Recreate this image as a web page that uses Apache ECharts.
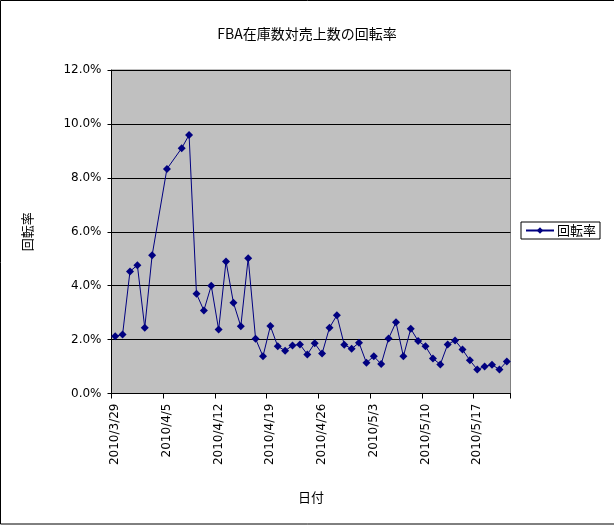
<!DOCTYPE html>
<html>
<head>
<meta charset="utf-8">
<script src="https://cdn.jsdelivr.net/npm/echarts@6/dist/echarts.min.js"></script>
<style>
html,body{margin:0;padding:0;background:#fff;}
#c{width:614px;height:525px;}
</style>
</head>
<body>
<div id="c"></div>
<script>
var dates = [
 '2010/3/29','2010/3/30','2010/3/31','2010/4/1','2010/4/2','2010/4/3','2010/4/4',
 '2010/4/5','2010/4/6','2010/4/7','2010/4/8','2010/4/9','2010/4/10','2010/4/11',
 '2010/4/12','2010/4/13','2010/4/14','2010/4/15','2010/4/16','2010/4/17','2010/4/18',
 '2010/4/19','2010/4/20','2010/4/21','2010/4/22','2010/4/23','2010/4/24','2010/4/25',
 '2010/4/26','2010/4/27','2010/4/28','2010/4/29','2010/4/30','2010/5/1','2010/5/2',
 '2010/5/3','2010/5/4','2010/5/5','2010/5/6','2010/5/7','2010/5/8','2010/5/9',
 '2010/5/10','2010/5/11','2010/5/12','2010/5/13','2010/5/14','2010/5/15','2010/5/16',
 '2010/5/17','2010/5/18','2010/5/19','2010/5/20','2010/5/21'
];
// 回転率 (%)
var rate = [
 2.12, 2.19, 4.53, 4.76, 2.44, 5.13, null,
 8.33, null, 9.10, 9.59, 3.70, 3.08, 4.00,
 2.37, 4.90, 3.37, 2.49, 5.02, 2.03, 1.38,
 2.50, 1.75, 1.59, 1.78, 1.82, 1.45, 1.86,
 1.48, 2.44, 2.90, 1.81, 1.66, 1.88, 1.14,
 1.38, 1.09, 2.04, 2.64, 1.38, 2.40, 1.95,
 1.75, 1.30, 1.08, 1.82, 1.97, 1.63, 1.23,
 0.89, 1.00, 1.07, 0.89, 1.19
];
var title = 'FBA在庫数対売上数の回転率';
var seriesName = '回転率';
var xName = '日付';
var yName = '回転率';

var FONT = '"Noto Sans CJK JP", "DejaVu Sans", sans-serif';
var NUMFONT = '"DejaVu Sans", sans-serif';
var chart = echarts.init(document.getElementById('c'));
chart.setOption({
  backgroundColor: '#ffffff',
  animation: false,
  textStyle: {fontFamily: FONT, color: '#000'},
  title: {
    text: title, left: 302, top: 22, textAlign: 'center',
    textStyle: {fontSize: 14, fontWeight: 'normal', color: '#000', fontFamily: FONT}
  },
  legend: {
    data: [seriesName], left: 521, top: 222, orient: 'vertical',
    borderColor: '#000', borderWidth: 1, padding: [2, 4, 2, 4],
    itemWidth: 28, itemHeight: 8, itemGap: 4,
    textStyle: {fontSize: 13, color: '#000', fontFamily: FONT, padding: [0, 0, 0, -2]}
  },
  graphic: [{
    type: 'rect', shape: {x: 0.5, y: 0.5, width: 620, height: 523.5},
    style: {fill: 'none', stroke: '#000', lineWidth: 1}, silent: true, z: 100
  }],
  grid: {
    left: 111.5, right: 103.5, top: 70, bottom: 131.5,
    show: true, backgroundColor: '#c0c0c0', borderColor: '#808080', borderWidth: 1
  },
  xAxis: {
    type: 'category', data: dates, boundaryGap: true,
    name: xName, nameLocation: 'middle', nameGap: 97,
    nameTextStyle: {fontSize: 13, color: '#000', fontFamily: FONT},
    axisLine: {lineStyle: {color: '#000', width: 1}},
    axisTick: {show: true, interval: 6, length: 5, lineStyle: {color: '#000'}},
    axisLabel: {interval: 6, rotate: 90, fontSize: 12, color: '#000', margin: 10, fontFamily: NUMFONT},
    splitLine: {show: false}
  },
  yAxis: {
    type: 'value', min: 0, max: 12, interval: 2,
    name: yName, nameLocation: 'middle', nameGap: 78, nameRotate: 90,
    nameTextStyle: {fontSize: 13, color: '#000', fontFamily: FONT},
    axisLine: {show: true, lineStyle: {color: '#000', width: 1}},
    axisTick: {show: true, length: 4, lineStyle: {color: '#000'}},
    axisLabel: {fontSize: 12, color: '#000', margin: 10, fontFamily: NUMFONT,
      formatter: function (v) { return v.toFixed(1) + '%'; }},
    splitLine: {show: true, lineStyle: {color: '#000', width: 1}}
  },
  series: [{
    name: seriesName, type: 'line', data: rate, connectNulls: true,
    symbol: 'diamond', symbolSize: 8, showAllSymbol: true,
    lineStyle: {color: '#000080', width: 1},
    itemStyle: {color: '#000080'}
  }]
});
</script>
</body>
</html>
